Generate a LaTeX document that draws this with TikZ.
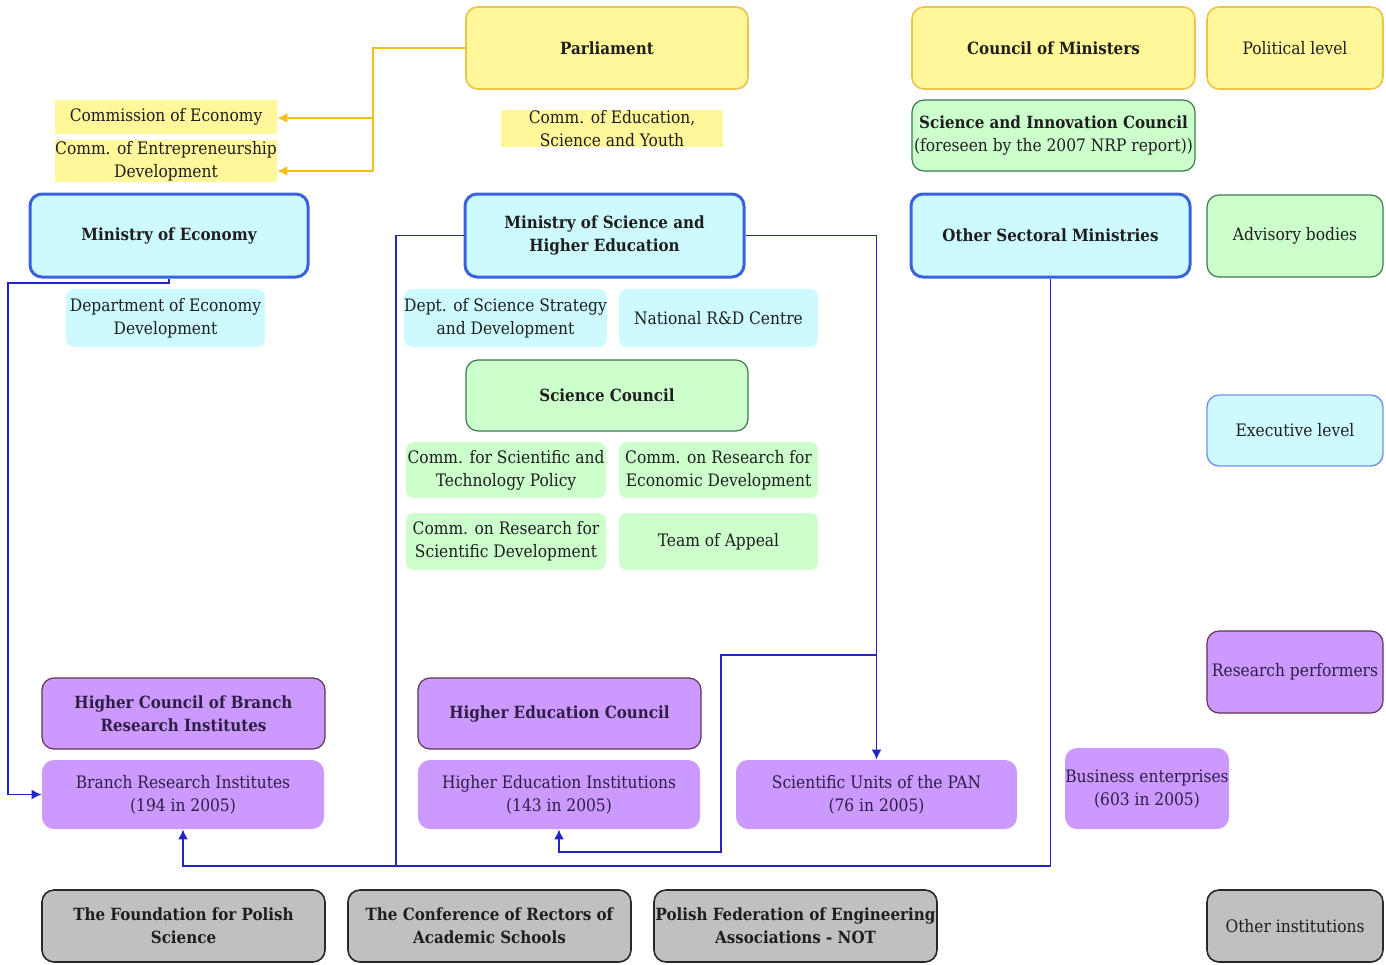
\documentclass[tikz,border=0pt]{standalone}
\usepackage{fontspec}
\setmainfont{DejaVu Serif Condensed}
\usetikzlibrary{arrows.meta}
\definecolor{yfill}{RGB}{255,247,153}
\definecolor{ydraw}{RGB}{238,196,70}
\definecolor{yline}{RGB}{245,190,20}
\definecolor{cfill}{RGB}{204,250,255}
\definecolor{cdraw}{RGB}{58,98,224}
\definecolor{gfill}{RGB}{204,255,204}
\definecolor{gdraw}{RGB}{60,120,80}
\definecolor{pfill}{RGB}{204,153,255}
\definecolor{pdraw}{RGB}{100,50,80}
\definecolor{grfill}{RGB}{192,192,192}
\definecolor{grdraw}{RGB}{40,40,40}
\definecolor{bline}{RGB}{35,35,200}
\definecolor{txt}{RGB}{30,30,30}
\definecolor{ptxt}{RGB}{45,30,70}
\newcommand{\B}[1]{{\fontsize{8.4}{11.5}\selectfont\bfseries #1}}
\tikzset{
  base/.style={rounded corners=6pt, align=center, inner sep=0pt, font=\fontsize{8.6}{11.5}\selectfont, text=txt},
  ybox/.style={base, fill=yfill, draw=ydraw, line width=0.8pt},
  yplain/.style={base, fill=yfill, rounded corners=0pt},
  cmin/.style={base, fill=cfill, draw=cdraw, line width=1.5pt},
  cexec/.style={base, fill=cfill, draw=cdraw!70, line width=0.7pt},
  cplain/.style={base, fill=cfill, rounded corners=4pt},
  gbox/.style={base, fill=gfill, draw=gdraw, line width=0.6pt},
  gplain/.style={base, fill=gfill, rounded corners=4pt},
  pbox/.style={base, fill=pfill, draw=pdraw, line width=0.6pt, text=ptxt},
  pplain/.style={base, fill=pfill, text=ptxt},
  grbox/.style={base, fill=grfill, draw=grdraw, line width=0.8pt},
  yl/.style={draw=yline, line width=0.8pt},
  bl/.style={draw=bline, line width=0.9pt},
  tip/.style={-{Latex[length=5pt,width=5pt]}},
}
\newcommand{\bx}[7]{\node[#6, minimum width={(#4-#2)*0.5pt}, minimum height={(#5-#3)*0.5pt}] (#1) at ({(#2+#4)/2},{(#3+#5)/2}) {#7};}
\begin{document}
\begin{tikzpicture}[x=0.5pt,y=-0.5pt]
\useasboundingbox (0,0) rectangle (1386,964);
% political level
\bx{parl}{466}{7}{748}{89}{ybox}{\B{Parliament}}
\bx{com}{912}{7}{1195}{89}{ybox}{\B{Council of Ministers}}
\bx{pol}{1207}{7}{1383}{89}{ybox}{Political level}
\bx{coe}{55}{100}{277}{134}{yplain}{Commission of Economy}
\bx{ced}{55}{140}{277}{182}{yplain}{Comm. of Entrepreneurship\\Development}
\bx{cesy}{501}{111}{723}{146}{yplain}{Comm. of Education,\\Science and Youth}
\bx{sic}{912}{100}{1195}{171}{gbox}{\B{Science and Innovation Council}\\(foreseen by the 2007 NRP report))}
% ministries
\bx{moe}{30}{194}{308}{277}{cmin}{\B{Ministry of Economy}}
\bx{mshe}{465}{194}{744}{277}{cmin}{\B{Ministry of Science and}\\\B{Higher Education}}
\bx{osm}{911}{194}{1190}{277}{cmin}{\B{Other Sectoral Ministries}}
\bx{adv}{1207}{195}{1383}{277}{gbox}{Advisory bodies}
\bx{ded}{66}{289}{265}{347}{cplain}{Department of Economy\\Development}
\bx{dss}{405}{289}{606}{347}{cplain}{Dept. of Science Strategy\\and Development}
\bx{nrd}{619}{289}{818}{347}{cplain}{National R\&D Centre}
\bx{sc}{466}{360}{748}{431}{gbox}{\B{Science Council}}
\bx{cst}{406}{442}{606}{498}{gplain}{Comm. for Scientific and\\Technology Policy}
\bx{cre}{619}{442}{818}{498}{gplain}{Comm. on Research for\\Economic Development}
\bx{crs}{406}{513}{606}{570}{gplain}{Comm. on Research for\\Scientific Development}
\bx{toa}{619}{513}{818}{570}{gplain}{Team of Appeal}
\bx{exe}{1207}{395}{1383}{466}{cexec}{Executive level}
% research performers
\bx{rp}{1207}{631}{1383}{713}{pbox}{Research performers}
\bx{hcb}{42}{678}{325}{749}{pbox}{\B{Higher Council of Branch}\\\B{Research Institutes}}
\bx{hec}{418}{678}{701}{749}{pbox}{\B{Higher Education Council}}
\bx{bri}{42}{760}{324}{829}{pplain}{Branch Research Institutes\\(194 in 2005)}
\bx{hei}{418}{760}{700}{829}{pplain}{Higher Education Institutions\\(143 in 2005)}
\bx{spa}{736}{760}{1017}{829}{pplain}{Scientific Units of the PAN\\(76 in 2005)}
\bx{bus}{1065}{748}{1229}{829}{pplain}{Business enterprises\\(603 in 2005)}
% other institutions
\bx{fps}{42}{890}{325}{962}{grbox}{\B{The Foundation for Polish}\\\B{Science}}
\bx{cra}{348}{890}{631}{962}{grbox}{\B{The Conference of Rectors of}\\\B{Academic Schools}}
\bx{pfe}{654}{890}{937}{962}{grbox}{\B{Polish Federation of Engineering}\\\B{Associations - NOT}}
\bx{oth}{1207}{890}{1383}{962}{grbox}{Other institutions}
% yellow connectors
\coordinate (y1) at (373,118);
\coordinate (y2) at (373,171);
\draw[yl] (parl.west) -| (y2);
\draw[yl,tip] (y1) -- (y1 -| coe.east) ;
\draw[yl,tip] (y2) -- (y2 -| ced.east);
% blue connectors
\coordinate (b1) at (8,283);
\coordinate (b2) at (396,866);
\coordinate (b4) at (876.5,655);
\coordinate (b5) at (721,852);
\draw[bl,tip] (moe.south) |- (b1) |- (bri.west);
\draw[bl] (mshe.west) -| (b2);
\draw[bl,tip] (osm.south) |- (b2) -| (bri.south);
\draw[bl,tip] (mshe.east) -| (spa.north);
\draw[bl,tip] (b4) -| (b5) -| (hei.south);
\end{tikzpicture}
\end{document}
